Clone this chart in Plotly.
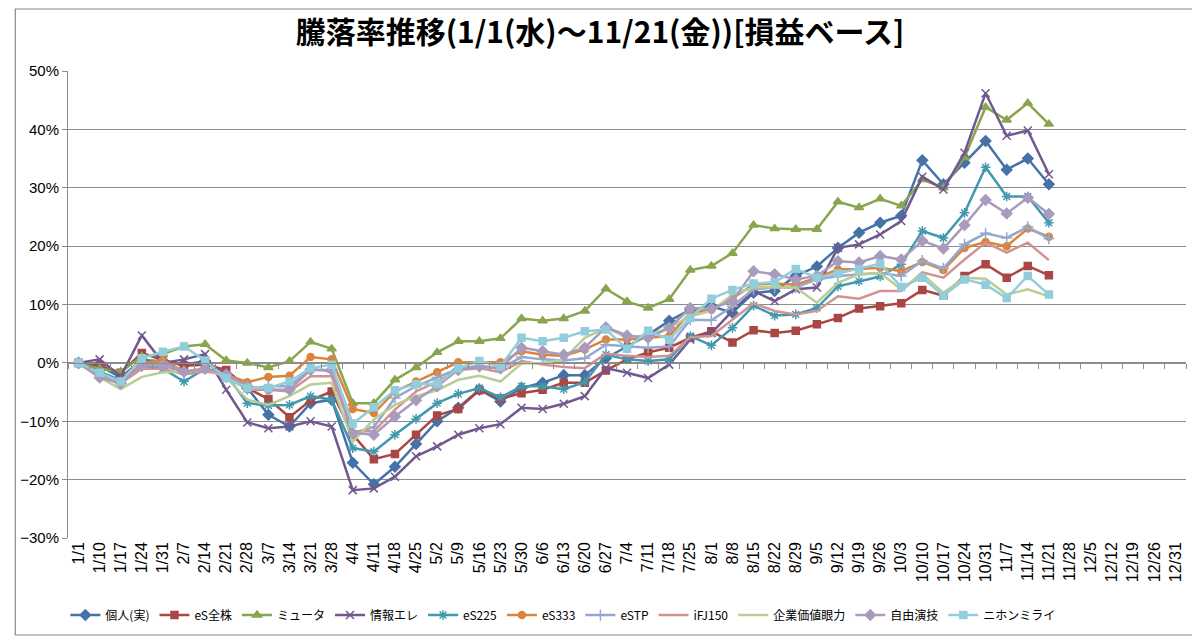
import plotly.graph_objects as go

# 週次の日付（カテゴリ軸）
dates = ["1/1", "1/10", "1/17", "1/24", "1/31", "2/7", "2/14", "2/21", "2/28",
         "3/7", "3/14", "3/21", "3/28", "4/4", "4/11", "4/18", "4/25", "5/2",
         "5/9", "5/16", "5/23", "5/30", "6/6", "6/13", "6/20", "6/27", "7/4",
         "7/11", "7/18", "7/25", "8/1", "8/8", "8/15", "8/22", "8/29", "9/5",
         "9/12", "9/19", "9/26", "10/3", "10/10", "10/17", "10/24", "10/31",
         "11/7", "11/14", "11/21", "11/28", "12/5", "12/12", "12/19", "12/26",
         "12/31"]
n_data = 47  # 11/21まで

# 騰落率 (%)
kojin = [0, -0.5, -2.5, 0.5, 0.3, -0.3, 0.3, -2.0, -4.3, -8.9, -10.9, -6.9, -6.3,
         -17.1, -20.8, -17.8, -13.9, -10.0, -7.7, -4.6, -6.6, -4.3, -3.4, -2.1, -2.1,
         0.8, 2.8, 4.8, 7.2, 9.1, 9.7, 8.6, 12.0, 12.3, 14.9, 16.5, 19.7, 22.3, 24.0,
         25.2, 34.7, 30.6, 34.3, 38.0, 33.1, 35.0, 30.6]
es_zenkabu = [0, -0.5, -1.7, 1.7, 0.5, -0.5, -0.3, -1.2, -4.3, -6.2, -9.3, -6.4, -4.9,
              -12.3, -16.5, -15.6, -12.3, -9.0, -7.9, -4.7, -6.1, -5.2, -4.6, -3.4, -3.4,
              -1.3, 0.6, 1.8, 2.6, 4.3, 5.4, 3.5, 5.6, 5.1, 5.5, 6.6, 7.7, 9.3, 9.7,
              10.2, 12.5, 11.5, 14.9, 16.9, 14.6, 16.6, 15.0]
myuta = [0, -1.0, -1.5, 1.1, 1.5, 2.8, 3.2, 0.4, 0.0, -0.8, 0.3, 3.6, 2.4,
         -6.9, -6.9, -2.9, -0.8, 1.8, 3.7, 3.7, 4.2, 7.6, 7.2, 7.6, 8.9,
         12.7, 10.5, 9.4, 10.9, 15.9, 16.6, 18.8, 23.6, 23.0, 22.9, 22.9, 27.6, 26.6, 28.1,
         26.9, 31.4, 30.0, 35.2, 43.8, 41.6, 44.5, 40.9]
joho_ere = [0, 0.6, -2.3, 4.7, 0.0, 0.6, 1.5, -4.6, -10.2, -11.2, -10.9, -10.0, -10.9,
            -21.8, -21.5, -19.5, -16.0, -14.3, -12.3, -11.2, -10.5, -7.7, -7.9, -7.0, -5.7,
            -0.9, -1.7, -2.6, -0.3, 4.0, 5.1, 8.9, 12.3, 10.6, 12.6, 12.9, 19.7, 20.3, 22.0,
            24.3, 31.9, 29.7, 36.0, 46.2, 38.9, 39.8, 32.3]
es225 = [0, -1.5, -3.0, -0.5, -1.0, -3.2, -1.0, -2.0, -6.9, -7.3, -7.2, -5.7, -6.3,
         -14.6, -15.2, -12.3, -9.6, -6.9, -5.3, -4.3, -5.9, -4.0, -4.0, -4.5, -3.3,
         1.4, 0.6, 0.3, 0.6, 4.6, 3.0, 6.0, 9.8, 8.1, 8.3, 9.4, 13.1, 14.0, 14.8,
         16.9, 22.6, 21.4, 25.7, 33.5, 28.5, 28.5, 24.0]
es333 = [0, -2.5, -3.5, 0.0, 0.5, -1.5, -1.0, -2.0, -3.3, -2.4, -2.2, 1.0, 0.6,
         -7.9, -8.6, -4.9, -3.2, -1.6, 0.1, 0.1, 0.1, 2.0, 1.4, 1.2, 2.3,
         4.0, 4.0, 4.3, 4.6, 8.6, 9.1, 11.1, 13.4, 13.6, 13.4, 14.6, 16.0, 16.1, 16.3,
         15.7, 17.3, 15.9, 19.7, 20.7, 20.0, 23.0, 21.6]
estp = [0, -2.0, -3.5, -0.5, 0.0, -1.5, -1.0, -2.5, -4.5, -4.0, -4.0, -1.0, -1.5,
        -12.0, -11.0, -6.0, -4.0, -2.5, -1.0, -0.5, -1.0, 1.0, 0.6, 0.4, 0.8,
        3.1, 2.8, 2.6, 2.8, 7.4, 7.3, 9.7, 12.6, 12.9, 12.9, 14.3, 14.9, 15.2, 15.4,
        14.9, 17.5, 16.2, 20.3, 22.2, 21.4, 23.3, 21.3]
ifj150 = [0, -2.0, -3.5, -1.0, -1.0, -2.0, -1.5, -2.0, -4.6, -4.6, -4.9, -2.3, -2.3,
          -11.7, -11.7, -8.0, -4.9, -3.2, -1.2, -0.9, -1.6, 0.3, -0.3, -0.7, -0.9,
          1.6, 1.2, 1.0, 1.2, 4.4, 4.6, 7.4, 10.2, 8.9, 8.3, 8.9, 11.4, 11.0, 12.3,
          12.3, 15.5, 14.6, 17.7, 20.6, 18.9, 20.6, 17.6]
kigyo_kachi = [0, -2.5, -4.5, -2.4, -1.6, -1.5, -0.9, -2.5, -6.3, -7.2, -5.7, -3.7, -3.4,
               -13.5, -9.7, -7.2, -5.7, -4.7, -2.9, -2.2, -3.2, -0.1, 0.0, 0.6, 4.3,
               6.0, 4.4, 4.7, 6.0, 8.0, 8.9, 11.7, 12.9, 13.0, 12.9, 10.3, 13.7, 15.2, 15.4,
               12.6, 15.2, 12.0, 14.6, 14.4, 11.7, 12.6, 11.4]
jiyu_engi = [0, -2.5, -3.5, -0.5, -0.5, -1.5, -1.0, -2.0, -4.0, -4.6, -4.6, -1.2, -1.2,
             -12.0, -12.3, -9.2, -6.4, -4.0, -1.2, -0.6, -0.9, 2.6, 2.0, 1.4, 2.6,
             6.1, 4.7, 4.3, 6.0, 9.4, 9.3, 10.6, 15.7, 15.2, 14.3, 14.9, 17.4, 17.2, 18.3,
             17.7, 20.9, 19.6, 23.6, 27.9, 25.6, 28.3, 25.5]
nihon_mirai = [0, -1.7, -3.2, 0.8, 1.9, 2.8, 0.4, -2.6, -4.3, -4.3, -3.2, -0.9, -0.3,
               -10.4, -7.6, -4.7, -3.6, -3.6, -0.9, 0.3, -0.6, 4.3, 3.7, 4.3, 5.4,
               5.7, 2.4, 5.5, 4.0, 7.7, 11.0, 12.5, 13.6, 13.8, 16.1, 14.6, 15.3, 16.1, 17.0,
               13.0, 14.6, 11.5, 14.3, 13.4, 11.1, 14.9, 11.7]

series = [
    ("個人(実)", kojin, "#4572A7", "diamond", 8),
    ("eS全株", es_zenkabu, "#AA4643", "square", 7),
    ("ミュータ", myuta, "#89A54E", "triangle-up", 8),
    ("情報エレ", joho_ere, "#71588F", "x-thin-open", 8),
    ("eS225", es225, "#4198AF", "asterisk-open", 8),
    ("eS333", es333, "#DB843D", "circle", 7),
    ("eSTP", estp, "#93A9CF", "cross-thin-open", 8),
    ("iFJ150", ifj150, "#D19392", None, 0),
    ("企業価値眼力", kigyo_kachi, "#B9CD96", None, 0),
    ("自由演技", jiyu_engi, "#A99BBD", "diamond", 8),
    ("ニホンミライ", nihon_mirai, "#92CDDC", "square", 7),
]

jp_font = "Noto Sans CJK JP"
grid_col = "#8c8c8c"

fig = go.Figure()

# y=0 の位置に目盛り付きの横軸を描くためのダミー
fig.add_trace(go.Scatter(x=dates, y=[None] * len(dates), xaxis="x2",
                         showlegend=False, hoverinfo="skip"))

for name, vals, col, sym, size in series:
    if sym is None:
        fig.add_trace(go.Scatter(x=dates[:n_data], y=vals, name=name, mode="lines",
                                 line=dict(color=col, width=2.5)))
    else:
        fig.add_trace(go.Scatter(x=dates[:n_data], y=vals, name=name, mode="lines+markers",
                                 line=dict(color=col, width=2.5),
                                 marker=dict(symbol=sym, size=size, color=col,
                                             line=dict(color=col, width=1.5))))

# ページの body に 8px の余白が付くので、その分を差し引いておく
fig.update_layout(
    width=1200, height=638,
    margin=dict(l=54, r=22, t=63, b=108),
    paper_bgcolor="white", plot_bgcolor="white",
    font=dict(family=jp_font, color="#000000"),
    title=dict(text="<b>騰落率推移(1/1(水)～11/21(金))[損益ベース]</b>",
               x=(600 - 8) / 1200, xref="container", xanchor="center",
               y=1 - 24 / 638, yref="container", yanchor="middle",
               font=dict(family=jp_font, size=30, color="#000000")),
    xaxis=dict(type="category", categoryorder="array", categoryarray=dates,
               range=[-0.5, len(dates) - 0.5], tickangle=-90, showgrid=False,
               ticks="", showline=False, zeroline=False,
               tickfont=dict(family="Liberation Sans", size=16, color="#000000")),
    xaxis2=dict(type="category", categoryorder="array", categoryarray=dates,
                range=[-0.5, len(dates) - 0.5], overlaying="x", anchor="free",
                position=0.375, side="bottom", showticklabels=False,
                showline=True, linecolor=grid_col, linewidth=1,
                ticks="outside", ticklen=5, tickcolor=grid_col, tickson="boundaries",
                showgrid=False, zeroline=False),
    yaxis=dict(range=[-30, 50], dtick=10, ticksuffix="%", showgrid=True,
               gridcolor=grid_col, gridwidth=1, zeroline=False,
               showline=True, linecolor=grid_col, ticks="outside", ticklen=5,
               tickcolor=grid_col,
               tickfont=dict(family="Liberation Sans", size=15, color="#000000")),
    legend=dict(orientation="h", x=(560 - 62) / 1124, xanchor="center",
                y=-0.165, yanchor="middle",
                font=dict(family=jp_font, size=12, color="#000000"),
                itemwidth=30, traceorder="normal"),
    # グラフ全体の枠線
    shapes=[dict(type="rect", xref="paper", yref="paper",
                 x0=-53 / 1124, x1=1135 / 1124, y0=-97 / 467, y1=529 / 467,
                 line=dict(color="#888888", width=1.2))],
)

fig.write_html("out.html")
